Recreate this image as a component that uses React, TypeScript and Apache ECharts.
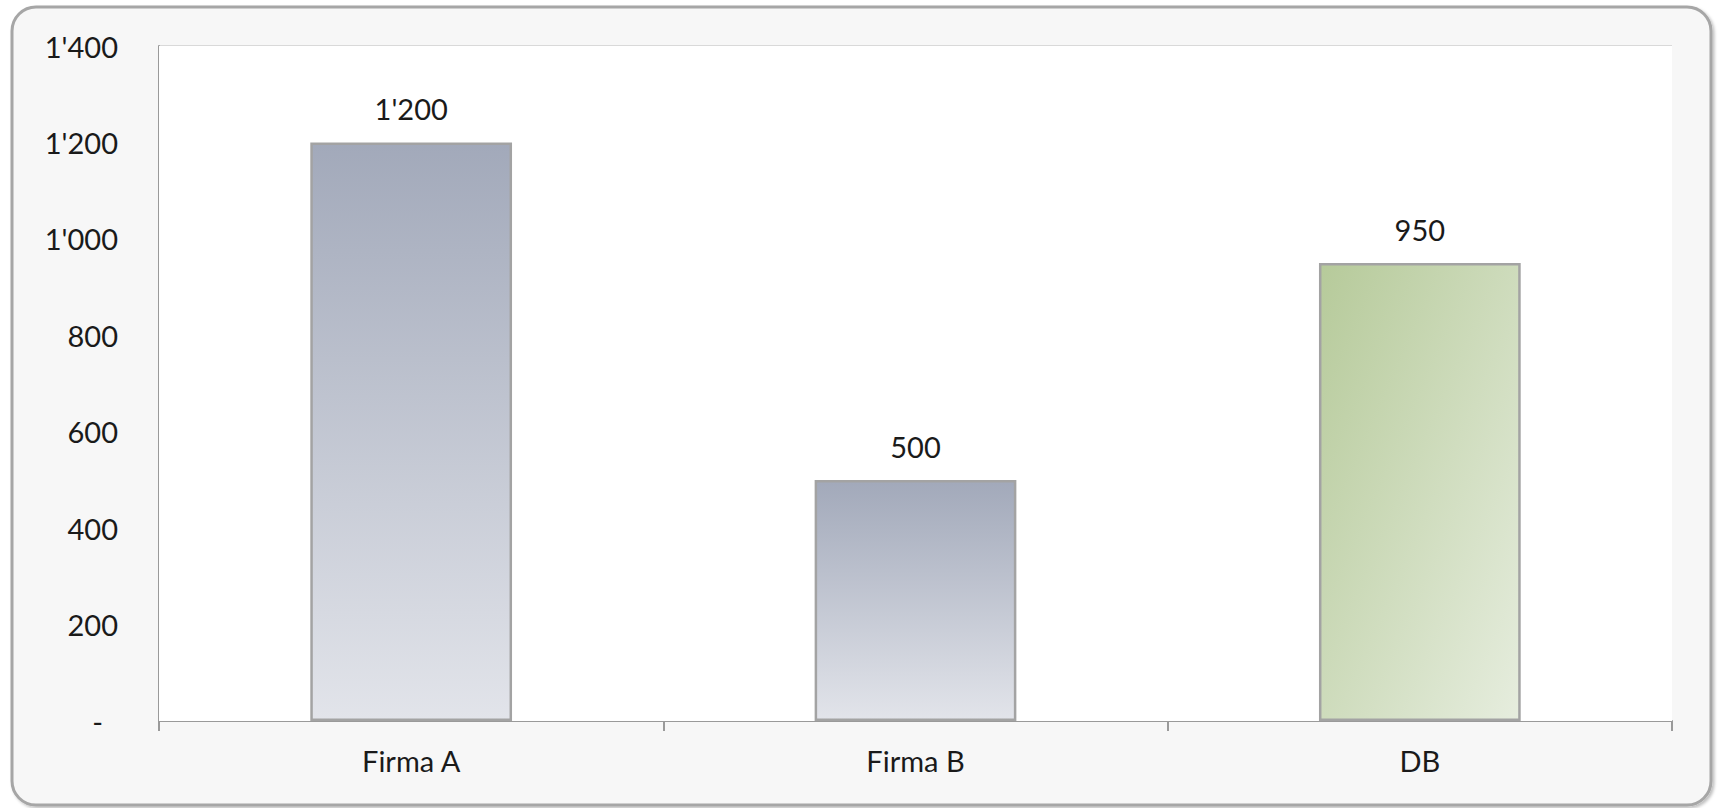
import React, { useEffect, useRef } from "react";
import * as echarts from "echarts";

const categories = ["Firma A", "Firma B", "DB"];
const values = [1200, 500, 950];
const yMin = 0;
const yMax = 1400;
const yInterval = 200;

const fmt = (v: number) => {
  const s = Math.round(v).toString();
  return s.replace(/\B(?=(\d{3})+(?!\d))/g, "'");
};

const FONT = "Lato, 'Open Sans', sans-serif";
const FS = 29;

export default function App() {
  const ref = useRef<HTMLDivElement>(null);
  useEffect(() => {
    document.body.style.margin = "0";
    const chart = echarts.init(ref.current!, null, { renderer: "svg" });
    const grayGrad = new echarts.graphic.LinearGradient(0, 0, 0, 1, [
      { offset: 0, color: "#a2a9ba" },
      { offset: 1, color: "#e2e4ea" },
    ]);
    const greenGrad = new echarts.graphic.LinearGradient(0, 0, 1, 1, [
      { offset: 0, color: "#b6ca9a" },
      { offset: 1, color: "#e6edde" },
    ]);
    const colors = [grayGrad, grayGrad, greenGrad];
    chart.setOption({
      animation: false,
      backgroundColor: "#ffffff",
      graphic: [
        {
          type: "rect",
          z: -10,
          silent: true,
          shape: { x: 12, y: 7, width: 1699, height: 798, r: 24 },
          style: {
            fill: "#f7f7f7",
            stroke: "#a6a6a6",
            lineWidth: 3,
            shadowBlur: 3,
            shadowOffsetX: 2,
            shadowOffsetY: 2,
            shadowColor: "rgba(0,0,0,0.25)",
          },
        },
      ],
      grid: {
        left: 159,
        right: 47,
        top: 46,
        bottom: 87,
        show: true,
        backgroundColor: "#ffffff",
        borderWidth: 0,
        z: 1,
      },
      xAxis: {
        type: "category",
        data: categories,
        axisLine: { show: true, lineStyle: { color: "#9a9a9a", width: 2 } },
        axisTick: { show: true, length: 10, lineStyle: { color: "#9a9a9a", width: 2 } },
        axisLabel: { color: "#1a1a1a", fontFamily: FONT, fontSize: FS, margin: 25 },
      },
      yAxis: {
        type: "value",
        min: yMin,
        max: yMax,
        interval: yInterval,
        axisLine: { show: true, lineStyle: { color: "#9a9a9a", width: 2 } },
        axisTick: { show: false },
        splitLine: { show: true, lineStyle: { color: "#d9d9d9", width: 2 } },
        axisLabel: {
          color: "#1a1a1a",
          fontFamily: FONT,
          fontSize: FS,
          margin: 41,
          formatter: (v: number) => (v === 0 ? "{d|-}" : fmt(v)),
          rich: {
            d: { fontFamily: FONT, fontSize: FS, color: "#1a1a1a", padding: [0, 15, 0, 0] },
          },
        },
      },
      series: [
        {
          type: "bar",
          barWidth: "40%",
          data: values.map((v, i) => ({
            value: v,
            itemStyle: { color: colors[i], borderColor: "#a3a3a3", borderWidth: 2.5 },
          })),
          label: {
            show: true,
            position: "top",
            distance: 19,
            color: "#1a1a1a",
            fontFamily: FONT,
            fontSize: FS,
            formatter: (p: any) => fmt(p.value),
          },
        },
      ],
    });
    return () => chart.dispose();
  }, []);
  return <div ref={ref} style={{ width: 1719, height: 808 }} />;
}
